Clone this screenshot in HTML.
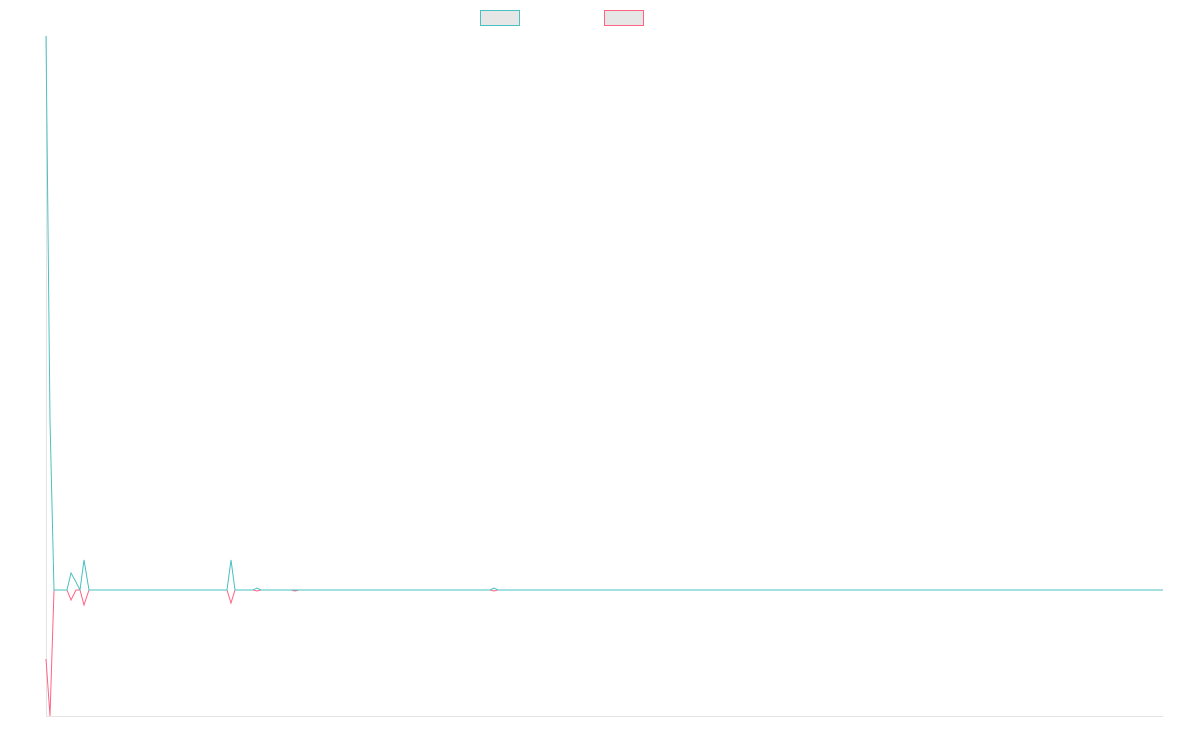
<!DOCTYPE html>
<html><head><style>html,body{margin:0;padding:0;background:#fff;width:1200px;height:750px;overflow:hidden}</style></head>
<body>
<svg width="1200" height="750" xmlns="http://www.w3.org/2000/svg">
<line x1="46.5" y1="36" x2="46.5" y2="716" stroke="#e4e4e4" stroke-width="1"/>
<line x1="46" y1="716.5" x2="1163" y2="716.5" stroke="#e4e4e4" stroke-width="1"/>
<rect x="480.5" y="10.5" width="39" height="15" fill="#e6e6e6" stroke="#4bc0c0" stroke-width="1"/>
<rect x="604.5" y="10.5" width="39" height="15" fill="#e6e6e6" stroke="#ff6384" stroke-width="1"/>
<polyline fill="none" stroke="#ff6384" stroke-width="1" points="46,659 50,716 54,590 63,590 67,590 71,600 76,590 80,590 84,605 89,590 227,590 231,603 235,590 253,590 257,591 261,590 291,590 295,591 299,590 490,590 494,591 498,590 1163,590"/>
<polyline fill="none" stroke="#4bc0c0" stroke-width="1" points="46,36 50,420 54,590 63,590 67,590 71,573 76,582 80,590 84,560 89,590 227,590 231,560 235,590 253,590 257,588 261,590 490,590 494,588 498,590 1163,590"/>
</svg>
</body></html>
